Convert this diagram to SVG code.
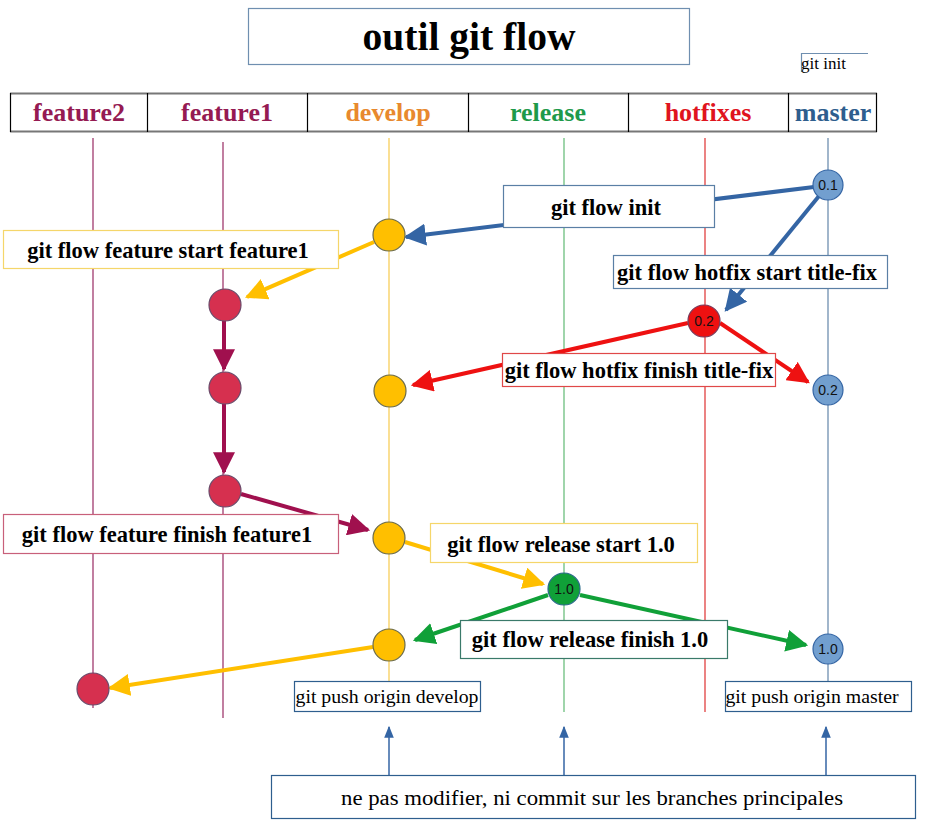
<svg xmlns="http://www.w3.org/2000/svg" width="945" height="823" viewBox="0 0 945 823">
<defs>
<style>
.lbl{font-family:"Liberation Serif",serif;font-weight:bold;font-size:22.5px;text-anchor:middle;fill:#000}
.hdr{font-family:"Liberation Serif",serif;font-weight:bold;font-size:26px;text-anchor:middle}
.push{font-family:"Liberation Serif",serif;font-size:19.8px;text-anchor:middle;fill:#000}
.ver{font-family:"Liberation Sans",sans-serif;font-size:14px;text-anchor:middle;fill:#111}
.box{fill:#fff}
.lane{stroke-width:1.3;fill:none}
.cy{fill:#FFBF00;stroke:#6b6b4a;stroke-width:1.2}
.cf{fill:#D6304F;stroke:#6a4a6a;stroke-width:1.2}
.cm{fill:#729FCF;stroke:#3465A4;stroke-width:1.2}
.conn{stroke-width:4;fill:none}
</style>
<marker id="aBlue" viewBox="0 0 10 10" refX="9" refY="5" markerWidth="5.5" markerHeight="5.5" orient="auto" markerUnits="strokeWidth"><path d="M0,0 L10,5 L0,10 z" fill="#3465A4"/></marker>
<marker id="aYel" viewBox="0 0 10 10" refX="9" refY="5" markerWidth="5.5" markerHeight="5.5" orient="auto" markerUnits="strokeWidth"><path d="M0,0 L10,5 L0,10 z" fill="#FFBF00"/></marker>
<marker id="aRed" viewBox="0 0 10 10" refX="9" refY="5" markerWidth="5.5" markerHeight="5.5" orient="auto" markerUnits="strokeWidth"><path d="M0,0 L10,5 L0,10 z" fill="#EE1111"/></marker>
<marker id="aCrim" viewBox="0 0 10 10" refX="9" refY="5" markerWidth="5.5" markerHeight="5.5" orient="auto" markerUnits="strokeWidth"><path d="M0,0 L10,5 L0,10 z" fill="#A0104E"/></marker>
<marker id="aGrn" viewBox="0 0 10 10" refX="9" refY="5" markerWidth="5.5" markerHeight="5.5" orient="auto" markerUnits="strokeWidth"><path d="M0,0 L10,5 L0,10 z" fill="#10A038"/></marker>
<marker id="aThin" viewBox="0 0 10 10" refX="9" refY="5" markerWidth="8" markerHeight="8" orient="auto" markerUnits="strokeWidth"><path d="M0,1 L10,5 L0,9 z" fill="#3465A4"/></marker>
</defs>

<g id="title">
<rect x="248.5" y="8.5" width="441" height="56" fill="#fff" stroke="#6f8fb0" stroke-width="1.2"/>
<text x="469" y="50" font-family="Liberation Serif,serif" font-weight="bold" font-size="39.5" text-anchor="middle">outil git flow</text>
</g>

<g id="git-init">
<path d="M801.5,72 V53.5 H868" fill="none" stroke="#6f8fb0" stroke-width="1.2"/>
<text x="801" y="69" font-family="Liberation Serif,serif" font-size="17">git init</text>
</g>

<g id="header">
<rect x="10.5" y="93.5" width="866" height="38" fill="#fff" stroke="none"/>
<line x1="10" y1="93.5" x2="877" y2="93.5" stroke="#777" stroke-width="2"/>
<line x1="10" y1="131.5" x2="877" y2="131.5" stroke="#777" stroke-width="2"/>
<g stroke="#000" stroke-width="1.2">
<line x1="10.5" y1="93" x2="10.5" y2="132"/>
<line x1="147.5" y1="93" x2="147.5" y2="132"/>
<line x1="307.5" y1="93" x2="307.5" y2="132"/>
<line x1="468.5" y1="93" x2="468.5" y2="132"/>
<line x1="628.5" y1="93" x2="628.5" y2="132"/>
<line x1="788.5" y1="93" x2="788.5" y2="132"/>
<line x1="876.5" y1="93" x2="876.5" y2="132"/>
</g>
<text class="hdr" x="79" y="121" fill="#951A52">feature2</text>
<text class="hdr" x="227" y="121" fill="#951A52">feature1</text>
<text class="hdr" x="388" y="121" fill="#E8892E">develop</text>
<text class="hdr" x="548" y="121" fill="#1E9A4A">release</text>
<text class="hdr" x="708" y="121" fill="#E0141E">hotfixes</text>
<text class="hdr" x="833" y="121" fill="#2E5E8E">master</text>
</g>

<g id="lanes">
<line class="lane" x1="93" y1="138" x2="93" y2="708" stroke="#A03A6E"/>
<line class="lane" x1="223" y1="142" x2="223" y2="718" stroke="#A03A6E"/>
<line class="lane" x1="389" y1="138" x2="389" y2="712" stroke="#F7CE5A"/>
<line class="lane" x1="564" y1="138" x2="564" y2="712" stroke="#6CBF7E"/>
<line class="lane" x1="705" y1="138" x2="705" y2="712" stroke="#E04040"/>
<line class="lane" x1="828" y1="138" x2="828" y2="712" stroke="#6F8FB0"/>
</g>

<g id="connectors">
<line class="conn" x1="814" y1="187" x2="406" y2="237" stroke="#3465A4" marker-end="url(#aBlue)"/>
<line class="conn" x1="819" y1="196" x2="726" y2="310" stroke="#3465A4" marker-end="url(#aBlue)"/>
<line class="conn" x1="374" y1="242" x2="247" y2="297" stroke="#FFBF00" marker-end="url(#aYel)"/>
<line class="conn" x1="688" y1="323" x2="413" y2="385" stroke="#EE1111" marker-end="url(#aRed)"/>
<line class="conn" x1="720" y1="323" x2="808" y2="382" stroke="#EE1111" marker-end="url(#aRed)"/>
<line class="conn" x1="224" y1="321" x2="224" y2="369" stroke="#A0104E" marker-end="url(#aCrim)"/>
<line class="conn" x1="224" y1="404" x2="224" y2="472" stroke="#A0104E" marker-end="url(#aCrim)"/>
<line class="conn" x1="241" y1="494" x2="368" y2="530" stroke="#A0104E" marker-end="url(#aCrim)"/>
<line class="conn" x1="405" y1="542" x2="543" y2="584" stroke="#FFBF00" marker-end="url(#aYel)"/>
<line class="conn" x1="548" y1="595" x2="415" y2="640" stroke="#10A038" marker-end="url(#aGrn)"/>
<line class="conn" x1="580" y1="595" x2="806" y2="645" stroke="#10A038" marker-end="url(#aGrn)"/>
<line class="conn" x1="373" y1="647" x2="110" y2="688" stroke="#FFBF00" marker-end="url(#aYel)"/>
<line x1="389" y1="775" x2="389" y2="727" stroke="#3465A4" stroke-width="1.5" marker-end="url(#aThin)"/>
<line x1="564" y1="775" x2="564" y2="727" stroke="#3465A4" stroke-width="1.5" marker-end="url(#aThin)"/>
<line x1="826" y1="775" x2="826" y2="727" stroke="#3465A4" stroke-width="1.5" marker-end="url(#aThin)"/>
</g>

<g id="n-master-01"><circle class="cm" cx="828" cy="185" r="15"/><text class="ver" x="828" y="190">0.1</text></g>
<g id="n-develop-1"><circle class="cy" cx="389" cy="235" r="16"/></g>
<g id="n-feature1-1"><circle class="cf" cx="225" cy="305" r="16"/></g>
<g id="n-hotfix-02"><circle cx="704" cy="321" r="16" fill="#EE1111" stroke="#7a3a5a" stroke-width="1.2"/><text class="ver" x="704" y="326">0.2</text></g>
<g id="n-feature1-2"><circle class="cf" cx="225" cy="388" r="16"/></g>
<g id="n-develop-2"><circle class="cy" cx="390" cy="391" r="16"/></g>
<g id="n-master-02"><circle class="cm" cx="828" cy="390" r="15"/><text class="ver" x="828" y="395">0.2</text></g>
<g id="n-feature1-3"><circle class="cf" cx="225" cy="491" r="16"/></g>
<g id="n-develop-3"><circle class="cy" cx="389" cy="538" r="16"/></g>
<g id="n-release-10"><circle cx="564" cy="589" r="16" fill="#10A038" stroke="#2a6a8a" stroke-width="1.2"/><text class="ver" x="564" y="594">1.0</text></g>
<g id="n-develop-4"><circle class="cy" cx="389" cy="645" r="16"/></g>
<g id="n-master-10"><circle class="cm" cx="828" cy="649" r="15"/><text class="ver" x="828" y="654">1.0</text></g>
<g id="n-feature2-1"><circle class="cf" cx="93" cy="689" r="16"/></g>

<g id="l-init"><rect class="box" x="503.5" y="185.5" width="211" height="42" stroke="#5a7fa5" stroke-width="1.2"/><text class="lbl" x="606" y="215">git flow init</text></g>
<g id="l-feature-start"><rect class="box" x="3.5" y="230.5" width="335" height="38" stroke="#F5D66A" stroke-width="1.2"/><text class="lbl" x="168" y="258">git flow feature start feature1</text></g>
<g id="l-hotfix-start"><rect class="box" x="613.5" y="255.5" width="274" height="33" stroke="#5a7fa5" stroke-width="1.2"/><text class="lbl" x="747" y="280">git flow hotfix start title-fix</text></g>
<g id="l-hotfix-finish"><rect class="box" x="502.5" y="353.5" width="273" height="33" stroke="#E04848" stroke-width="1.2"/><text class="lbl" x="639" y="378">git flow hotfix finish title-fix</text></g>
<g id="l-feature-finish"><rect class="box" x="3.5" y="514.5" width="335" height="39" stroke="#C8607A" stroke-width="1.2"/><text class="lbl" x="167" y="542">git flow feature finish feature1</text></g>
<g id="l-release-start"><rect class="box" x="430.5" y="523.5" width="267" height="39" stroke="#F5D66A" stroke-width="1.2"/><text class="lbl" x="561" y="552">git flow release start 1.0</text></g>
<g id="l-release-finish"><rect class="box" x="460.5" y="620.5" width="267" height="38" stroke="#3a7a6a" stroke-width="1.2"/><text class="lbl" x="590" y="647">git flow release finish 1.0</text></g>
<g id="l-push-develop"><rect class="box" x="294.5" y="681.5" width="186" height="30" stroke="#2E5E8E" stroke-width="1.2"/><text class="push" x="387" y="703">git push origin develop</text></g>
<g id="l-push-master"><rect class="box" x="725.5" y="681.5" width="186" height="30" stroke="#2E5E8E" stroke-width="1.2"/><text class="push" x="812" y="703">git push origin master</text></g>
<g id="l-note"><rect class="box" x="271.5" y="775.5" width="644" height="43" stroke="#2E5E8E" stroke-width="1.2"/><text x="592" y="805" font-family="Liberation Serif,serif" font-size="20" text-anchor="middle" textLength="502" lengthAdjust="spacingAndGlyphs">ne pas modifier, ni commit sur les branches principales</text></g>
</svg>
